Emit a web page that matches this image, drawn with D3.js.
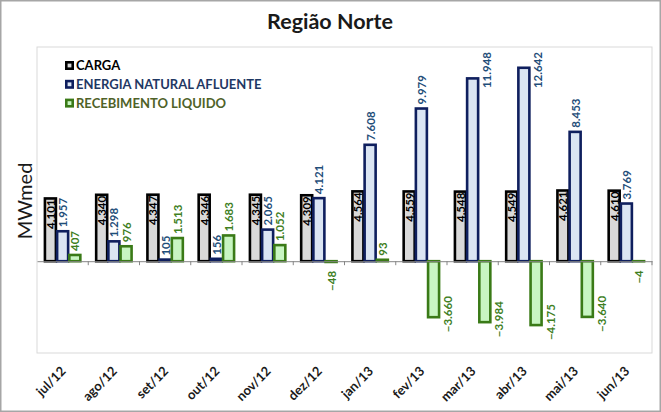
<!DOCTYPE html>
<html>
<head>
<meta charset="utf-8">
<script src="https://cdn.jsdelivr.net/npm/d3@7"></script>
<style>
  body { margin: 0; background: #fff; }
  svg { display: block; font-family: Lato, "Open Sans", sans-serif; }
</style>
</head>
<body>
<div id="plot"></div>
<script>
// data
var months = ["jul/12", "ago/12", "set/12", "out/12", "nov/12", "dez/12",
              "jan/13", "fev/13", "mar/13", "abr/13", "mai/13", "jun/13"];
var carga = [4101, 4340, 4347, 4346, 4345, 4309, 4564, 4559, 4548, 4549, 4621, 4610];
var ena = [1957, 1298, 105, 156, 2065, 4121, 7608, 9979, 11948, 12642, 8453, 3769];
var recebimento = [407, 976, 1513, 1683, 1052, -48, 93, -3660, -3984, -4175, -3640, -4];
var seriesNames = ["CARGA", "ENERGIA NATURAL AFLUENTE", "RECEBIMENTO LIQUIDO"];
var yDomain = [-6000, 14000];

var width = 661, height = 412;
var plot = {left: 37, right: 652, top: 47, bottom: 353};

var styles = [
  {stroke: "#000000", fill: "#d9d9d9", label: "#000000", legend: "#000000"},
  {stroke: "#0f1f5e", fill: "#dbe5f3", label: "#1f4e79", legend: "#1f3864"},
  {stroke: "#3a7a17", fill: "#c8f5c2", label: "#3f7f1f", legend: "#4f6228"}
];

var fmt = d3.formatLocale({decimal: ",", thousands: ".", grouping: [3], currency: ["", ""]}).format(",d");

var rows = [];
months.forEach(function(m, i) {
  [carga[i], ena[i], recebimento[i]].forEach(function(v, s) {
    rows.push({month: m, s: s, value: v});
  });
});

var svg = d3.select("#plot").append("svg")
  .attr("width", width)
  .attr("height", height);

// outer frame
svg.append("rect")
  .attr("x", 0.75).attr("y", 0.75)
  .attr("width", width - 1.5).attr("height", height - 1.5)
  .attr("fill", "#fff")
  .attr("stroke", "#a6a6a6")
  .attr("stroke-width", 1.5);

// plot area frame
svg.append("rect")
  .attr("x", plot.left).attr("y", plot.top)
  .attr("width", plot.right - plot.left).attr("height", plot.bottom - plot.top)
  .attr("fill", "none")
  .attr("stroke", "#d9d9d9");

// title
svg.append("text")
  .attr("x", 330).attr("y", 29)
  .attr("text-anchor", "middle")
  .attr("font-size", 21.5)
  .attr("font-weight", "bold")
  .attr("fill", "#1a1a1a")
  .text("Região Norte");

// y title
svg.append("text")
  .attr("transform", "translate(32,201) rotate(-90)")
  .attr("text-anchor", "middle")
  .attr("font-size", 20)
  .attr("fill", "#1a1a1a")
  .text("MWmed");

var x0 = d3.scaleBand()
  .domain(months)
  .range([plot.left, plot.right])
  .padding(0);

var x1 = d3.scaleBand()
  .domain([0, 1, 2])
  .range([0, x0.bandwidth()])
  .paddingInner(0)
  .paddingOuter(0.6);

var y = d3.scaleLinear()
  .domain(yDomain)
  .range([plot.bottom, plot.top]);

// bars
svg.append("g").selectAll("rect")
  .data(rows)
  .enter()
  .append("rect")
    .attr("x", d => x0(d.month) + x1(d.s) + 0.6)
    .attr("y", d => Math.min(y(d.value), y(0)))
    .attr("width", x1.bandwidth() - 1.2)
    .attr("height", d => Math.abs(y(d.value) - y(0)))
    .attr("fill", d => styles[d.s].fill)
    .attr("stroke", d => styles[d.s].stroke)
    .attr("stroke-width", 2.6);

// zero axis with ticks at the category borders
var axis = svg.append("g")
  .attr("transform", "translate(0," + y(0) + ")")
  .call(d3.axisBottom(x0).tickSize(0).tickFormat(""));
axis.select(".domain").attr("stroke", "#868686");
axis.selectAll(".border")
  .data(months)
  .enter()
  .append("line")
    .attr("class", "border")
    .attr("x1", d => x0(d) + x0.bandwidth())
    .attr("x2", d => x0(d) + x0.bandwidth())
    .attr("y1", 0).attr("y2", 4)
    .attr("stroke", "#868686");

// bar labels (rotated, reading upwards)
var labels = svg.append("g")
  .attr("font-size", 11.5)
  .attr("font-weight", "bold");

rows.forEach(function(d) {
  var cx = x0(d.month) + x1(d.s) + x1.bandwidth() / 2;
  var yv = y(d.value);
  var len = fmt(d.value).length * 6;
  var t = labels.append("text")
    .attr("dominant-baseline", "central")
    .attr("fill", styles[d.s].label)
    .text(fmt(d.value));
  var px = cx, py, anchor;
  if (d.s === 0) {
    py = yv + 1; anchor = "end";
  } else if (d.value >= 0) {
    if (yv - 4 - len < plot.top + 4) {
      px = cx + 14; py = plot.top + 5; anchor = "end";
    } else {
      py = yv - 4; anchor = "start";
    }
  } else {
    if (yv + 4 + len > plot.bottom) {
      px = cx + 14; py = yv - 3; anchor = "middle";
    } else {
      py = yv + 9; anchor = "end";
    }
  }
  t.attr("text-anchor", anchor)
    .attr("transform", "translate(" + px + "," + py + ") rotate(-90)");
});

// month labels
svg.append("g").selectAll("text")
  .data(months)
  .enter()
  .append("text")
    .attr("transform", d => "translate(" + (x0(d) + x0.bandwidth() / 2 + 4) + ",372) rotate(-45)")
    .attr("text-anchor", "end")
    .attr("font-size", 13)
    .attr("font-weight", "bold")
    .attr("fill", "#1a1a1a")
    .text(d => d);

// legend
var legend = svg.append("g").selectAll("g")
  .data(seriesNames)
  .enter()
  .append("g")
    .attr("transform", (d, i) => "translate(65," + (65.5 + i * 18.8) + ")");
legend.append("rect")
  .attr("x", 1.3).attr("y", -3.2)
  .attr("width", 6.4).attr("height", 6.4)
  .attr("fill", (d, i) => styles[i].fill)
  .attr("stroke", (d, i) => styles[i].stroke)
  .attr("stroke-width", 2.6);
legend.append("text")
  .attr("x", 11).attr("y", 4.6)
  .attr("font-size", 13)
  .attr("font-weight", "bold")
  .attr("fill", (d, i) => styles[i].legend)
  .text(d => d);
</script>
</body>
</html>
